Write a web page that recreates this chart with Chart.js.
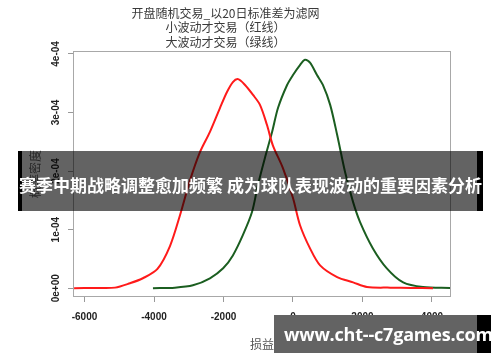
<!DOCTYPE html>
<html><head><meta charset="utf-8">
<script src="https://cdn.jsdelivr.net/npm/chart.js@4.4.1/dist/chart.umd.min.js"></script>
<style>
html,body{margin:0;padding:0;background:#fff;}
#wrap{position:relative;width:500px;height:362px;overflow:hidden;background:#fff;}
canvas{position:absolute;left:0;top:0;}
#banner{position:absolute;left:18px;top:151px;width:465px;height:60px;background:rgba(0,0,0,0.61);}
#banner .l{position:absolute;left:0;top:0;width:4px;height:60px;background:#000;}
#banner .r{position:absolute;right:0;top:0;width:6px;height:60px;background:#000;}
#banner .t{position:absolute;left:-20px;right:-20px;top:23px;line-height:22px;text-align:center;color:#fff;font-weight:bold;font-size:17px;font-family:"Noto Sans CJK SC";white-space:nowrap;}
#wm{position:absolute;left:274px;top:315px;width:217px;height:38px;background:#636363;}
#wm .r{position:absolute;right:0;top:0;width:14px;height:38px;background:#000;}
#wm .t{position:absolute;left:10px;top:8px;line-height:22px;color:#fff;font-weight:bold;font-size:18px;font-family:"Open Sans";white-space:nowrap;letter-spacing:-0.2px;}
</style>
</head><body>
<div id="wrap">
<canvas id="c" width="500" height="362"></canvas>
<div id="banner"><div class="l"></div><div class="r"></div><div class="t">赛季中期战略调整愈加频繁 成为球队表现波动的重要因素分析</div></div>
<div id="wm"><div class="r"></div><div class="t">www.cht--c7games.com</div></div>
</div>
<script>
const titleLines = ['开盘随机交易_以20日标准差为滤网', '小波动才交易（红线）', '大波动才交易（绿线）'];
const xTitle = '损益';
const yTitle = '概率密度';
const Y_UNIT = 1e-4;
// red: small-volatility trades (density in units of 1e-4)
const redX = [-6300, -5700, -5120, -4690, -4320, -3900, -3540, -3250, -2960, -2680, -2390, -2100, -1900, -1730, -1580, -1380, -1150, -950, -750, -580, -290, 0, 200, 490, 780, 1270, 1730, 2130, 2800, 3400, 4030];
const redY = [0, 0.005, 0.01, 0.085, 0.17, 0.33, 0.72, 1.25, 1.85, 2.32, 2.67, 3.08, 3.35, 3.52, 3.57, 3.47, 3.30, 3.13, 2.79, 2.44, 2.05, 1.54, 1.08, 0.68, 0.39, 0.19, 0.10, 0.02, 0.01, 0.005, 0];
// green: large-volatility trades (density in units of 1e-4)
const greenX = [-4030, -3400, -2880, -2390, -2010, -1730, -1440, -1180, -1010, -810, -600, -430, -170, 0, 200, 345, 490, 690, 860, 1070, 1270, 1500, 1730, 1930, 2300, 2700, 3170, 3740, 4520];
const greenY = [0, 0.01, 0.05, 0.17, 0.34, 0.56, 0.91, 1.30, 1.76, 2.22, 2.67, 3.08, 3.47, 3.64, 3.81, 3.90, 3.85, 3.64, 3.47, 3.13, 2.62, 1.98, 1.47, 1.13, 0.68, 0.34, 0.10, 0.02, 0.005];
const xTicks = [-6000, -4000, -2000, 0, 2000, 4000];
const yTicks = [0, 1, 2, 3, 4];
const yTickLabels = ['0e+00', '1e-04', '2e-04', '3e-04', '4e-04'];

const toPts = (xs, ys) => xs.map((x, i) => ({x: x, y: ys[i] * Y_UNIT}));

const boxPlugin = {
  id: 'rbox',
  afterDatasetsDraw(chart) {
    const {ctx, chartArea: a} = chart;
    ctx.save();
    ctx.strokeStyle = '#a8a8a8';
    ctx.lineWidth = 1;
    ctx.strokeRect(Math.round(a.left) + 0.5, Math.round(a.top) + 0.5, Math.round(a.right - a.left) - 1, Math.round(a.bottom - a.top) - 1);
    ctx.restore();
  },
  afterDraw(chart) {
    const {ctx} = chart;
    const ys = chart.scales.y;
    ctx.save();
    ctx.fillStyle = '#222';
    ctx.font = 'bold 10px "Liberation Sans", Arial, sans-serif';
    ctx.textAlign = 'center';
    ctx.textBaseline = 'middle';
    yTicks.forEach((v, i) => {
      const py = ys.getPixelForValue(v * Y_UNIT);
      ctx.save();
      ctx.translate(56, py);
      ctx.rotate(-Math.PI / 2);
      ctx.fillText(yTickLabels[i], 0, 0);
      ctx.restore();
    });
    ctx.restore();
  }
};

new Chart(document.getElementById('c'), {
  type: 'scatter',
  data: {
    datasets: [
      {data: toPts(redX, redY), showLine: true, borderColor: '#ff1a1a', borderWidth: 2, pointRadius: 0, tension: 0.3, fill: false},
      {data: toPts(greenX, greenY), showLine: true, borderColor: '#1b5e20', borderWidth: 2, pointRadius: 0, tension: 0.3, fill: false}
    ]
  },
  options: {
    responsive: false,
    animation: false,
    layout: {padding: {left: 0, right: 49, top: 0, bottom: 0}},
    plugins: {
      legend: {display: false},
      tooltip: {enabled: false},
      title: {
        display: true,
        text: titleLines,
        color: '#3a3a3a',
        font: {family: '"Noto Sans CJK SC"', size: 12, weight: 'normal', lineHeight: 1.2083},
        padding: {top: 6, bottom: 1.5}
      }
    },
    scales: {
      x: {
        type: 'linear',
        min: -6331, max: 4547,
        afterBuildTicks: s => { s.ticks = xTicks.map(v => ({value: v})); },
        afterFit: s => { s.height = 65; },
        border: {display: false},
        grid: {drawOnChartArea: false, drawTicks: true, tickLength: 5, color: '#999'},
        ticks: {color: '#222', font: {family: '"Liberation Sans", Arial', size: 10, weight: 'bold'}, padding: 9, maxRotation: 0, autoSkip: false, callback: v => String(v)},
        title: {display: true, text: xTitle, color: '#555', font: {family: '"Noto Sans CJK SC"', size: 12}, padding: {top: 0, bottom: 10}}
      },
      y: {
        type: 'linear',
        min: -0.15 * Y_UNIT, max: 4.05 * Y_UNIT,
        afterBuildTicks: s => { s.ticks = yTicks.map(v => ({value: v * Y_UNIT})); },
        afterFit: s => { s.width = 73; },
        border: {display: false},
        grid: {drawOnChartArea: false, drawTicks: true, tickLength: 5, color: '#999'},
        ticks: {display: false},
        title: {display: true, text: yTitle, color: '#666', font: {family: '"Noto Sans CJK SC"', size: 12}, padding: {top: 28, bottom: 0}}
      }
    }
  },
  plugins: [boxPlugin]
});
</script>
</body></html>
